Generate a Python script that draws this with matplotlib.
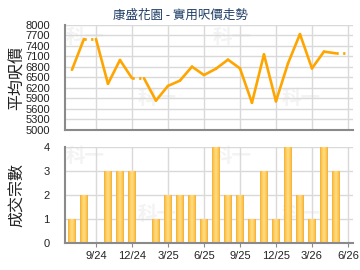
import numpy as np
import matplotlib
matplotlib.use("Agg")
import matplotlib.pyplot as plt

plt.rcParams['font.family'] = ['Liberation Sans', 'Noto Sans CJK TC', 'DejaVu Sans']

# monthly data, 7/24 .. 6/26
months = ['7/24', '8/24', '9/24', '10/24', '11/24', '12/24',
          '1/25', '2/25', '3/25', '4/25', '5/25', '6/25',
          '7/25', '8/25', '9/25', '10/25', '11/25', '12/25',
          '1/26', '2/26', '3/26', '4/26', '5/26', '6/26']
prices = [6720, 7600, 7600, 6320, 7000, 6480,
          6480, 5840, 6260, 6410, 6810, 6570,
          6750, 7010, 6760, 5780, 7160, 5820,
          6900, 7740, 6760, 7240, 7190, 7190]
counts = [1, 2, 0, 3, 3, 3,
          0, 1, 2, 2, 2, 1,
          4, 2, 2, 1, 3, 1,
          4, 2, 1, 4, 3, 0]
tick_labels = ['9/24', '12/24', '3/25', '6/25', '9/25', '12/25', '3/26', '6/26']
price_ticks = list(range(5000, 8001, 300))

title = '康盛花園 - 實用呎價走勢'
line_col = '#FFA500'
grid_col = '#d9d9d9'
spine_col = '#8a8a8a'

x = np.arange(1, len(months) + 1)
tick_pos = [x[months.index(m)] for m in tick_labels]

fig = plt.figure(figsize=(3.6, 2.7), dpi=100)
ax1 = fig.add_axes([65 / 360, 1 - 130 / 270, 288 / 360, 105 / 270])
ax2 = fig.add_axes([65 / 360, 1 - 243 / 270, 288 / 360, 96 / 270])


def style_axes(ax):
    for s in ['top', 'right']:
        ax.spines[s].set_visible(False)
    for s in ['left', 'bottom']:
        ax.spines[s].set_color(spine_col)
        ax.spines[s].set_linewidth(1.5)
        ax.spines[s].set_zorder(5)
    ax.set_xlim(0.42, 24.42)
    ax.set_xticks(tick_pos)
    ax.grid(True, color=grid_col, linewidth=1.0, zorder=0)
    ax.set_axisbelow(True)
    ax.tick_params(axis='y', length=0, pad=11, labelsize=8, colors='#222222')
    ax.tick_params(axis='x', length=3, color=spine_col, pad=3, labelsize=8,
                   colors='#222222')


def watermark(ax, spots):
    for (mx, my) in spots:
        ax.text(mx, my, '科一', transform=ax.transAxes, fontsize=14,
                fontweight='bold', color='#f3f3f3', ha='center', va='center',
                family=['Noto Sans CJK TC'], zorder=0.5)


# --- price line ---
style_axes(ax1)
ax1.set_ylim(5000, 8000)
ax1.set_yticks(price_ticks)
ax1.set_xticklabels([])
ax1.tick_params(axis='x', length=0)
for i in range(1, len(x)):
    ls = '-' if counts[i] > 0 else (0, (0.8, 1.6))
    ax1.plot(x[i - 1:i + 1], prices[i - 1:i + 1], color=line_col,
             linewidth=1.9 if counts[i] > 0 else 2.0, linestyle=ls,
             solid_capstyle='round', solid_joinstyle='round', zorder=3)
watermark(ax1, [(0.07, 0.88), (0.58, 0.88), (0.32, 0.3), (0.82, 0.3)])
ax1.set_ylabel('平均呎價', family=['Noto Sans CJK TC'], fontsize=11.5,
               color='#222222')
ax1.yaxis.set_label_coords(-0.135, 0.5)
fig.text(180 / 360, 1 - 15 / 270, title, ha='center', va='center',
         fontsize=9, color='#1f3d66', family=['Noto Sans CJK TC', 'DejaVu Sans'])

# --- deal counts ---
style_axes(ax2)
ax2.set_ylim(0, 4)
ax2.set_yticks([0, 1, 2, 3, 4])
ax2.set_xticklabels(tick_labels)
grad = ['#EBA21E', '#F5B53A', '#FBC454', '#FECF69', '#FFD877']
widths = [0.72, 0.6, 0.46, 0.32, 0.18]
for w, c in zip(widths, grad):
    ax2.bar(x, counts, width=w, color=c, linewidth=0, zorder=3)
watermark(ax2, [(0.07, 0.9), (0.58, 0.9), (0.32, 0.3), (0.82, 0.3)])
ax2.set_ylabel('成交宗數', family=['Noto Sans CJK TC'], fontsize=11.5,
               color='#222222')
ax2.yaxis.set_label_coords(-0.135, 0.5)

fig.savefig('out.png', dpi=100)
